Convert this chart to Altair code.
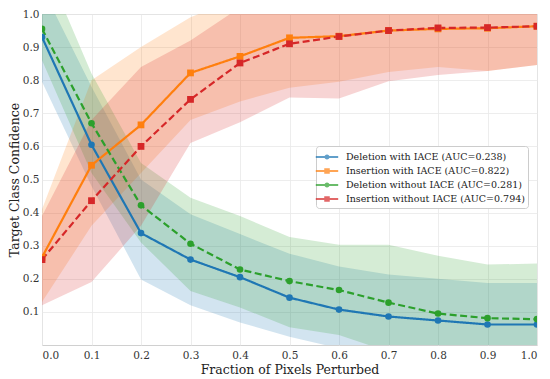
import altair as alt
import pandas as pd

x_vals = [0.0, 0.1, 0.2, 0.3, 0.4, 0.5, 0.6, 0.7, 0.8, 0.9, 1.0]

series_names = [
    "Deletion with IACE (AUC=0.238)",
    "Insertion with IACE (AUC=0.822)",
    "Deletion without IACE (AUC=0.281)",
    "Insertion without IACE (AUC=0.794)",
]
series_keys = ["del_iace", "ins_iace", "del_no", "ins_no"]
line_styles = ["solid", "solid", "dashed", "dashed"]

del_iace = [0.930, 0.605, 0.338, 0.258, 0.205, 0.143, 0.107, 0.086, 0.074, 0.062, 0.062]
ins_iace = [0.265, 0.543, 0.665, 0.822, 0.872, 0.928, 0.933, 0.950, 0.955, 0.957, 0.963]
del_no = [0.955, 0.670, 0.422, 0.306, 0.228, 0.193, 0.166, 0.128, 0.095, 0.081, 0.078]
ins_no = [0.258, 0.436, 0.600, 0.742, 0.852, 0.910, 0.932, 0.950, 0.958, 0.959, 0.963]

del_iace_lo = [0.795, 0.480, 0.198, 0.120, 0.068, 0.025, -0.010, -0.030, -0.040, -0.050, -0.050]
del_iace_hi = [1.080, 0.780, 0.500, 0.395, 0.335, 0.276, 0.237, 0.213, 0.200, 0.187, 0.187]
del_no_lo = [0.860, 0.520, 0.310, 0.163, 0.113, 0.054, 0.030, -0.020, -0.030, -0.040, -0.040]
del_no_hi = [1.170, 0.820, 0.550, 0.445, 0.390, 0.326, 0.303, 0.303, 0.270, 0.243, 0.246]
ins_iace_lo = [0.130, 0.360, 0.520, 0.680, 0.736, 0.777, 0.795, 0.825, 0.840, 0.828, 0.846]
ins_iace_hi = [0.410, 0.800, 0.900, 0.990, 1.050, 1.080, 1.080, 1.080, 1.080, 1.080, 1.080]
ins_no_lo = [0.120, 0.190, 0.360, 0.610, 0.673, 0.748, 0.745, 0.797, 0.816, 0.828, 0.846]
ins_no_hi = [0.390, 0.680, 0.840, 0.920, 1.020, 1.080, 1.080, 1.080, 1.080, 1.080, 1.080]

colors = ["#1f77b4", "#ff7f0e", "#2ca02c", "#d62728"]
marker_kind = ["circle", "square", "circle", "square"]

means = [del_iace, ins_iace, del_no, ins_no]
los = [del_iace_lo, ins_iace_lo, del_no_lo, ins_no_lo]
his = [del_iace_hi, ins_iace_hi, del_no_hi, ins_no_hi]

rows = []
for name, key, style, kind, m_list, l_list, h_list in zip(
        series_names, series_keys, line_styles, marker_kind, means, los, his):
    for xv, m, l, h in zip(x_vals, m_list, l_list, h_list):
        rows.append({"series": name, "key": key, "style": style, "kind": kind,
                     "x": xv, "y": m, "lo": l, "hi": h})
df = pd.DataFrame(rows)

FONT = "DejaVu Serif"

x_axis = alt.Axis(
    values=x_vals, format=".1f", title="Fraction of Pixels Perturbed",
    grid=True, gridColor="#e8e8e8", gridWidth=0.8, domain=False, ticks=False,
    labelFont=FONT, titleFont=FONT,
    labelFontSize=10.5, labelColor="#333333", labelPadding=5,
    titleFontSize=12.5, titleFontWeight="normal", titleColor="#222222",
    titlePadding=3,
)
y_axis = alt.Axis(
    values=[0.1, 0.2, 0.3, 0.4, 0.5, 0.6, 0.7, 0.8, 0.9, 1.0], format=".1f",
    title="Target Class Confidence",
    grid=True, gridColor="#e8e8e8", gridWidth=0.8, domain=False, ticks=False,
    labelFont=FONT, titleFont=FONT,
    labelFontSize=10.5, labelColor="#333333", labelPadding=3,
    titleFontSize=12.5, titleFontWeight="normal", titleColor="#222222",
    titlePadding=1,
)
x_scale = alt.Scale(domain=[0, 1], nice=False, zero=False)
y_scale = alt.Scale(domain=[0, 1], nice=False, zero=False)

X = alt.X("x:Q", scale=x_scale, axis=x_axis)


def Y(field):
    return alt.Y(field, type="quantitative", scale=y_scale, axis=y_axis)


key_scale = alt.Scale(domain=series_keys, range=colors)
dash_scale = alt.Scale(domain=["solid", "dashed"], range=[[1, 0], [7, 3.5]])

base = alt.Chart(df)

bands = base.mark_area(opacity=0.2, clip=True).encode(
    x=X, y=Y("lo"), y2="hi:Q",
    fill=alt.Fill("key:N", scale=key_scale, legend=None),
)

lines = base.mark_line(strokeWidth=2.2, clip=True).encode(
    x=X, y=Y("y"),
    stroke=alt.Stroke("key:N", scale=key_scale, legend=None),
    strokeDash=alt.StrokeDash("style:N", scale=dash_scale, legend=None),
    detail="key:N",
)

circles = base.transform_filter(alt.datum.kind == "circle").mark_point(
    filled=True, shape="circle", size=44, opacity=1, clip=True
).encode(x=X, y=Y("y"), fill=alt.Fill("key:N", scale=key_scale, legend=None))

squares = base.transform_filter(alt.datum.kind == "square").mark_point(
    filled=True, shape="square", size=46, opacity=1, clip=True
).encode(x=X, y=Y("y"), fill=alt.Fill("key:N", scale=key_scale, legend=None))

path_circle = "M-1.6,0L1.6,0M-0.22,0A0.22,0.22,0,1,1,0.22,0A0.22,0.22,0,1,1,-0.22,0Z"
path_square = "M-1.6,0L1.6,0M-0.25,-0.25L0.25,-0.25L0.25,0.25L-0.25,0.25Z"

legend = alt.Legend(
    orient="none", legendX=274, legendY=132, title=None,
    symbolSize=196, symbolStrokeWidth=2,
    labelFont=FONT, labelFontSize=9.5, labelColor="#222222", labelOffset=11,
    labelLimit=0,
    padding=3, rowPadding=0, strokeColor="#cccccc", fillColor="#ffffff",
    cornerRadius=3,
)

# legend-only layer: points placed outside the y domain and clipped away
legend_layer = base.transform_filter(alt.datum.x == 0).transform_calculate(
    off="5"
).mark_point(filled=False, strokeWidth=2, clip=True).encode(
    x=X, y=Y("off"),
    color=alt.Color("series:N", scale=alt.Scale(domain=series_names, range=colors), legend=legend),
    shape=alt.Shape("series:N", scale=alt.Scale(domain=series_names, range=[path_circle, path_square, path_circle, path_square]), legend=legend),
)

chart = alt.layer(bands, lines, circles, squares, legend_layer).properties(
    width=495, height=331,
    autosize=alt.AutoSizeParams(type="none"),
    padding={"left": 34, "top": 6, "right": 5, "bottom": 40},
).configure(font=FONT).configure_view(stroke="#d0d0d0", strokeWidth=1)

chart.save("out.html", embed_options={"renderer": "svg", "actions": False})
